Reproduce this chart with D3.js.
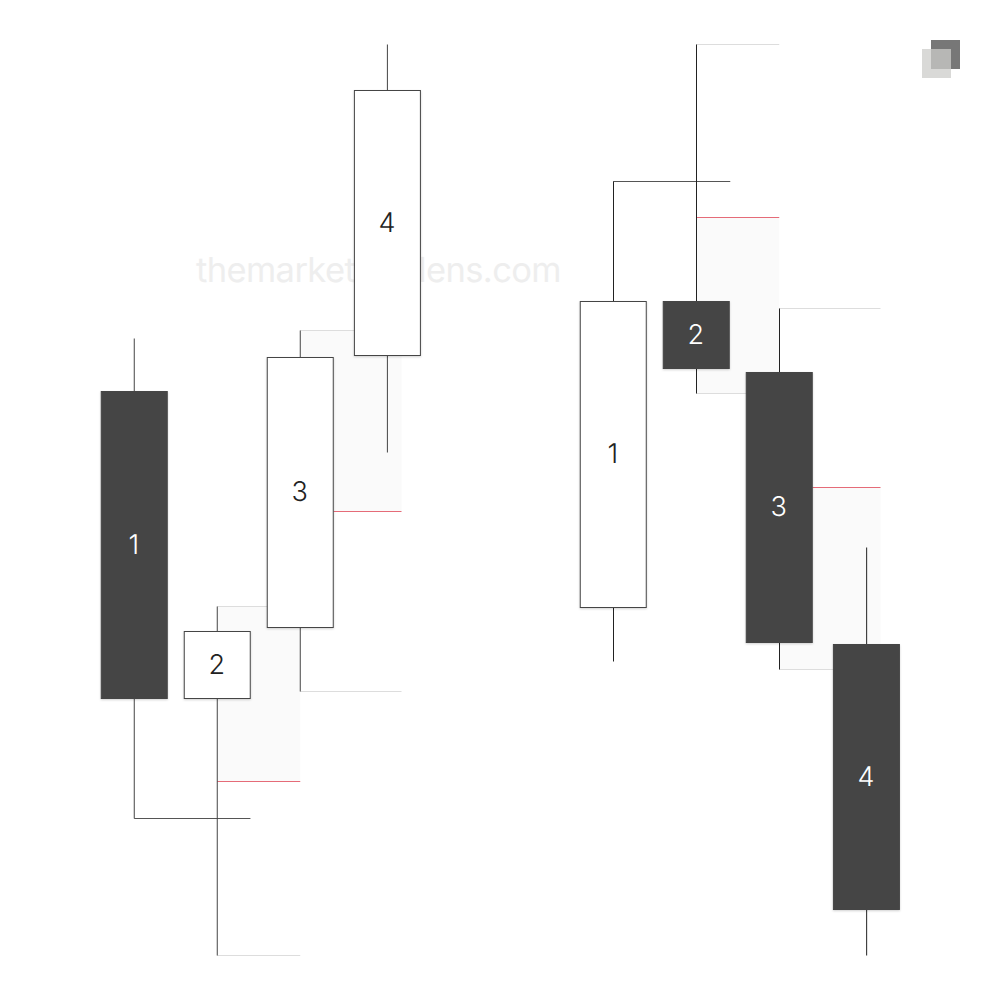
<!DOCTYPE html>
<html>
<head>
<meta charset="utf-8">
<script src="https://cdn.jsdelivr.net/npm/d3@7"></script>
<style>
  html, body { margin: 0; padding: 0; background: #fff; }
  svg { display: block; }
  text { font-family: Inter, "Noto Sans", sans-serif; text-rendering: geometricPrecision; }
</style>
</head>
<body>
<div id="chart"></div>
<script>
const candleLabels = ["1", "2", "3", "4"];
const candleSlots = [0, 1, 2, 3.05];

// left pattern (price, 0-100 over the page height)
const leftBodyTop = [60.9, 36.9, 64.3, 91.0];
const leftBodyBottom = [30.2, 30.2, 37.3, 64.5];
const leftHigh = [66.2, 39.4, 67.0, 95.6];
const leftLow = [18.2, 4.5, 30.9, 54.8];
const leftDark = [true, false, false, false];

// right pattern
const rightBodyTop = [69.9, 69.9, 62.8, 35.6];
const rightBodyBottom = [39.3, 63.2, 35.8, 9.1];
const rightHigh = [81.9, 95.6, 69.2, 45.3];
const rightLow = [33.9, 60.7, 33.1, 4.5];
const rightDark = [false, true, true, true];

// shaded zones: [from slot, to slot, top price, bottom price]
const leftZones = [[1, 2, 39.4, 21.9], [2, 3.22, 67.0, 48.9]];
const rightZones = [[1, 2, 78.3, 60.7], [2, 3.22, 51.3, 33.1]];

// level lines: [from slot, to slot, price, kind]
const leftLevels = [
  [0, 1.4, 18.2, "dark"],
  [1, 2, 39.4, "light"], [1, 2, 21.9, "red"], [1, 2, 4.5, "light"],
  [2, 3.22, 67.0, "light"], [2.4, 3.22, 48.9, "red"], [2, 3.22, 30.9, "light"]
];
const rightLevels = [
  [0, 1.41, 81.9, "dark"],
  [1, 2, 95.6, "light"], [1, 2, 78.3, "red"], [1, 2, 60.7, "light"],
  [2, 3.22, 69.2, "light"], [2.4, 3.22, 51.3, "red"], [2, 3.22, 33.1, "light"]
];

const width = 1000;
const height = 1000;
const candleWidth = 66;
const levelColors = { dark: "#555", light: "#ddd", red: "#e56b78" };

const svg = d3.select("#chart").append("svg")
  .attr("width", width)
  .attr("height", height);

const defs = svg.append("defs");
const shadow = defs.append("filter")
  .attr("id", "bodyShadow")
  .attr("x", "-10%").attr("y", "-10%")
  .attr("width", "120%").attr("height", "120%");
shadow.append("feDropShadow")
  .attr("dx", 0).attr("dy", 1)
  .attr("stdDeviation", 1)
  .attr("flood-color", "#000")
  .attr("flood-opacity", 0.18);

const yScale = d3.scaleLinear().domain([0, 100]).range([height, 0]);
const xLeft = d3.scaleLinear().domain([0, 1]).range([134, 217]);
const xRight = d3.scaleLinear().domain([0, 1]).range([613, 696]);

// watermark, the middle of it sits behind candle 4
svg.append("text")
  .attr("x", 196).attr("y", 282)
  .attr("font-size", 34.5)
  .attr("letter-spacing", -0.6)
  .attr("fill", "#eeeeee")
  .text("themarket");
svg.append("text")
  .attr("x", 561).attr("y", 282)
  .attr("text-anchor", "end")
  .attr("font-size", 34.5)
  .attr("letter-spacing", -0.6)
  .attr("fill", "#eeeeee")
  .text("lens.com");

function drawChart(xScale, bodyTop, bodyBottom, high, low, dark, zones, levels, wickColor, wickShift) {
  const g = svg.append("g").attr("transform", "translate(0.25,0.5)");
  const candles = candleLabels.map((label, i) => ({
    label,
    slot: candleSlots[i],
    top: bodyTop[i],
    bottom: bodyBottom[i],
    high: high[i],
    low: low[i],
    dark: dark[i]
  }));

  g.selectAll(".zone").data(zones).enter().append("rect")
    .attr("class", "zone")
    .attr("x", d => xScale(d[0]))
    .attr("y", d => yScale(d[2]))
    .attr("width", d => xScale(d[1]) - xScale(d[0]))
    .attr("height", d => yScale(d[3]) - yScale(d[2]))
    .attr("fill", "#fafafa");

  g.selectAll(".level").data(levels).enter().append("line")
    .attr("class", "level")
    .attr("x1", d => xScale(d[0]))
    .attr("x2", d => xScale(d[1]))
    .attr("y1", d => yScale(d[2]))
    .attr("y2", d => yScale(d[2]))
    .attr("stroke", d => levelColors[d[3]])
    .attr("stroke-width", 1);

  g.selectAll(".wick").data(candles).enter().append("line")
    .attr("class", "wick")
    .attr("x1", d => xScale(d.slot) + wickShift)
    .attr("x2", d => xScale(d.slot) + wickShift)
    .attr("y1", d => yScale(d.high))
    .attr("y2", d => yScale(d.low))
    .attr("stroke", wickColor)
    .attr("stroke-width", 1);

  g.selectAll(".body").data(candles).enter().append("rect")
    .attr("class", "body")
    .attr("x", d => xScale(d.slot) - candleWidth / 2)
    .attr("y", d => yScale(d.top))
    .attr("width", candleWidth)
    .attr("height", d => yScale(d.bottom) - yScale(d.top))
    .attr("fill", d => d.dark ? "#454545" : "#fff")
    .attr("stroke", "#444")
    .attr("stroke-width", 1)
    .attr("filter", "url(#bodyShadow)");

  g.selectAll(".label").data(candles).enter().append("text")
    .attr("class", "label")
    .attr("x", d => xScale(d.slot) - 0.5)
    .attr("y", d => (yScale(d.top) + yScale(d.bottom)) / 2)
    .attr("dy", "0.33em")
    .attr("text-anchor", "middle")
    .attr("font-size", 27)
    .attr("font-weight", 300)
    .attr("fill", d => d.dark ? "#fff" : "#222")
    .text(d => d.label);
}

drawChart(xLeft, leftBodyTop, leftBodyBottom, leftHigh, leftLow, leftDark, leftZones, leftLevels, "#444", 0);
drawChart(xRight, rightBodyTop, rightBodyBottom, rightHigh, rightLow, rightDark, rightZones, rightLevels, "#222", 0.25);

// logo mark, top right
svg.append("rect")
  .attr("x", 931).attr("y", 40)
  .attr("width", 29).attr("height", 29)
  .attr("fill", "#777");
svg.append("rect")
  .attr("x", 922).attr("y", 49)
  .attr("width", 29).attr("height", 29)
  .attr("fill", "#ccccc9")
  .attr("fill-opacity", 0.75);
</script>
</body>
</html>
